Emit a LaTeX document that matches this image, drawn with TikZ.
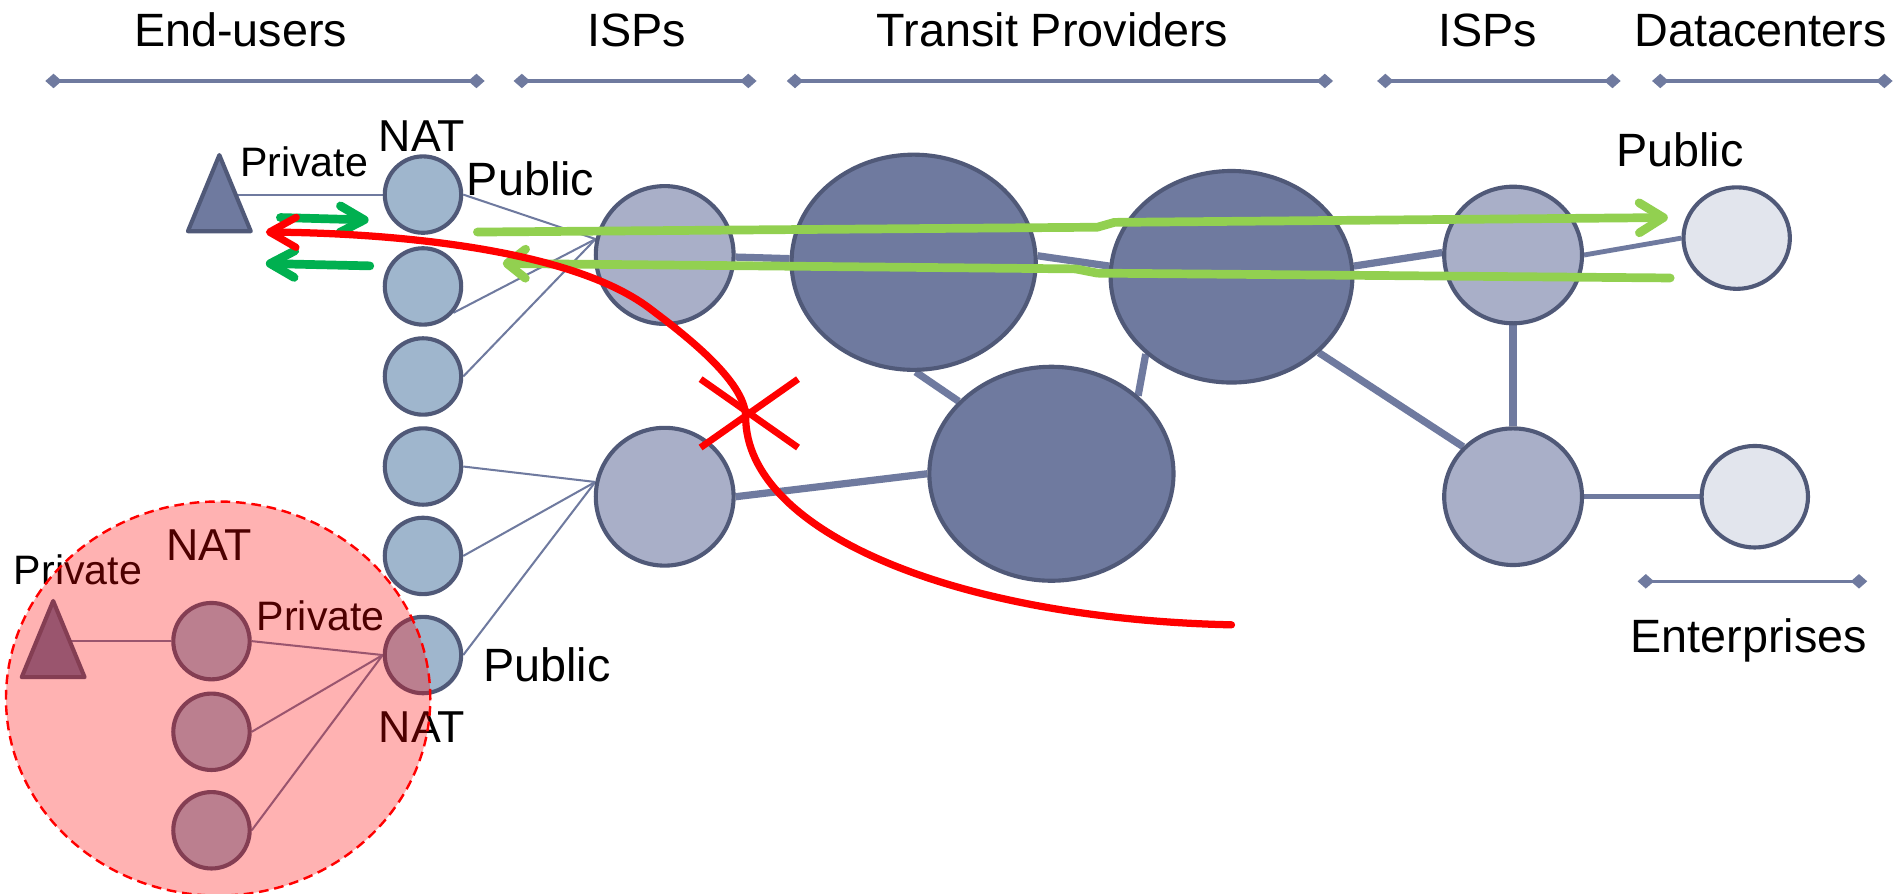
\documentclass[tikz,border=0pt]{standalone}
\usepackage{fontspec}
\setmainfont{Liberation Sans}
\usetikzlibrary{shapes.geometric,shapes.misc,arrows.meta}
\pgfdeclarelayer{bgfill}
\pgfdeclarelayer{background}
\pgfsetlayers{bgfill,background,main}
\definecolor{slate}{RGB}{111,122,159}
\definecolor{edgec}{RGB}{80,89,120}
\definecolor{ispfill}{RGB}{169,175,200}
\definecolor{natfill}{RGB}{159,182,205}
\definecolor{dcfill}{RGB}{226,229,237}
\definecolor{dgreen}{RGB}{0,176,80}
\definecolor{lgreen}{RGB}{146,208,80}
\begin{document}
\begin{tikzpicture}[x=0.025cm,y=-0.025cm,
  blob/.style={ellipse,draw=edgec,line width=0.085cm,inner sep=0pt},
  natc/.style={blob,fill=natfill,minimum width=1.58cm,minimum height=1.58cm},
  ispc/.style={blob,fill=ispfill,minimum width=2.85cm,minimum height=2.85cm},
  trc/.style={blob,fill=slate},
  dcc/.style={blob,fill=dcfill,minimum width=2.2cm,minimum height=2.1cm},
  host/.style={isosceles triangle,isosceles triangle stretches,shape border rotate=90,draw=edgec,fill=slate,line width=0.085cm,line join=round,minimum width=1.3cm,minimum height=1.575cm,inner sep=0pt,anchor=lower side},
  thinlink/.style={draw=slate,line width=0.042cm},
  thicklink/.style={draw=slate,line width=0.15cm},
  midlink/.style={draw=slate,line width=0.1cm},
  hdr/.style={font=\fontsize{27.5}{30}\selectfont,inner sep=0pt,anchor=base},
  natl/.style={font=\fontsize{26.3}{30}\selectfont,inner sep=0pt,anchor=base},
  privl/.style={font=\fontsize{24.2}{28}\selectfont,inner sep=0pt,anchor=base},
  spanline/.style={draw=slate,line width=0.065cm,{Diamond[length=0.34cm,width=0.3cm]}-{Diamond[length=0.34cm,width=0.3cm]}},
  lgarrow/.style={draw=lgreen,line width=0.18cm,line cap=round,line join=round,-{Straight Barb[round,length=0.5cm,width=0.62cm]}},
  lgarrowsmall/.style={draw=lgreen,line width=0.18cm,line cap=round,line join=round,-{Straight Barb[round,length=0.38cm,width=0.6cm]}},
  dgarrow/.style={draw=dgreen,line width=0.18cm,line cap=round,line join=round,-{Straight Barb[round,length=0.5cm,width=0.55cm]}},
  redarrow/.style={draw=red,line width=0.15cm,line cap=round,line join=round,-{Straight Barb[round,length=0.55cm,width=0.62cm]}}
]
\useasboundingbox (0,0) rectangle (1568,739);
\begin{pgfonlayer}{bgfill}
\fill[white] (0,0) rectangle (1568,739);
\end{pgfonlayer}

% ---- header spans
\coordinate (h1a) at (37.5,67); \coordinate (h1b) at (401,67);
\coordinate (h2a) at (425,67); \coordinate (h2b) at (626,67);
\coordinate (h3a) at (651,67); \coordinate (h3b) at (1103,67);
\coordinate (h4a) at (1139.5,67); \coordinate (h4b) at (1341,67);
\coordinate (h5a) at (1367,67); \coordinate (h5b) at (1566,67);
\coordinate (h6a) at (1355,481); \coordinate (h6b) at (1545,481);
\foreach \s in {1,...,6} {\draw[spanline] (h\s a) -- (h\s b);}

\node[hdr] (lend) at (199,38.6) {End-users};
\node[hdr] (lisp1) at (527,38.6) {ISPs};
\node[hdr] (ltr) at (871,38.6) {Transit Providers};
\node[hdr] (lisp2) at (1231,38.6) {ISPs};
\node[hdr] (ldc) at (1457,38.6) {Datacenters};
\node[hdr] (lentp) at (1447,540) {Enterprises};

% ---- nodes
\node[host] (u1) at (181.5,193) {};
\node[natc] (n1) at (350,161) {};
\node[natc] (n2) at (350,237) {};
\node[natc] (n3) at (350,311.5) {};
\node[natc] (n4) at (350,386) {};
\node[natc] (n5) at (350,460) {};
\node[natc] (n6) at (350,542) {};
\node[ispc] (i1) at (550,211) {};
\node[ispc] (i2) at (550,411) {};
\node[trc,minimum width=5.05cm,minimum height=4.45cm] (t1) at (756,217) {};
\node[trc,minimum width=5.0cm,minimum height=4.375cm] (t2) at (1019,229) {};
\node[trc,minimum width=5.05cm,minimum height=4.425cm] (t3) at (870,392) {};
\node[ispc,minimum height=2.825cm] (r1) at (1252,211) {};
\node[ispc,minimum height=2.825cm] (r2) at (1252,411) {};
\node[dcc] (dc) at (1437,197) {};
\node[dcc] (ent) at (1452,411) {};
\node[host] (u2) at (44,562) {};
\node[natc] (p1) at (175,530.5) {};
\node[natc] (p2) at (175,605.5) {};
\node[natc] (p3) at (175,687) {};

% ---- links (behind nodes)
\begin{pgfonlayer}{background}
\draw[thinlink] (n1.west) -- (n1.west -| u1.apex);
\draw[thinlink] (n1.east) -- (i1.167);
\draw[thinlink] (n2.-41) -- (i1.167);
\draw[thinlink] (n3.east) -- (i1.167);
\draw[thinlink] (n4.east) -- (i2.168);
\draw[thinlink] (n5.east) -- (i2.168);
\draw[thinlink] (n6.east) -- (i2.168);
\draw[thinlink] (p1.west) -- (p1.west -| u2.apex);
\draw[thinlink] (p1.east) -- (n6.west);
\draw[thinlink] (p2.east) -- (n6.west);
\draw[thinlink] (p3.east) -- (n6.west);
\draw[thicklink] (i1) -- (t1);
\draw[thicklink] (t1.3) -- (t2.175);
\draw[thicklink] (t2.5) -- (r1.178);
\draw[midlink] (r1.east) -- (dc.west);
\draw[thicklink] (r1) -- (r2);
\draw[thicklink] (t2.-41) -- (r2.135);
\draw[thicklink] (t1.-89) -- (t3.142);
\draw[thicklink] (t2.-138) -- (t3.42);
\draw[thicklink] (i2.east) -- (t3.west);
\draw[midlink] (r2.east) -- (ent.west);
\end{pgfonlayer}

% ---- labels
\node[privl] (lpriv1) at (251.6,146) {Private};
\node[natl] (lnat1) at (349,125.5) {NAT};
\node[hdr] (lpub1) at (439,161.5) {Public};
\node[hdr] (lpub2) at (1390,138) {Public};
\node[hdr] (lpub3) at (452.5,564) {Public};
\node[natl] (lnat2) at (173,463.5) {NAT};
\node[privl] (lpriv2) at (64.5,484) {Private};
\node[privl] (lpriv3) at (265.5,522) {Private};
\node[natl] (lnat3) at (349,614) {NAT};

% ---- green flows
\coordinate (ga1) at (395,192); \coordinate (ga2) at (908,188);
\coordinate (ga3) at (922,184); \coordinate (ga4) at (1380,180);
\draw[lgarrow] (ga1) -- (ga2) -- (ga3) -- (ga4);
\coordinate (gb1) at (1382,230); \coordinate (gb2) at (908,226);
\coordinate (gb3) at (890,222.5); \coordinate (gb4) at (416,218);
\draw[lgarrowsmall] (gb1) -- (gb2) -- (gb3) -- (gb4);
\coordinate (gc1) at (232,180); \coordinate (gc2) at (305,182);
\draw[dgarrow] (gc1) -- (gc2);
\coordinate (gd1) at (306,220); \coordinate (gd2) at (220,218);
\draw[dgarrow] (gd1) -- (gd2);

% ---- red blocked flow
\coordinate (rs) at (1019,517);
\coordinate (rx) at (617,345);
\coordinate (rk) at (536,254);
\coordinate (re) at (220,192);
\draw[redarrow] (rs) .. controls (790,512) and (617,440) .. (rx)
  .. controls (617,315) and (564,275) .. (rk)
  .. controls (471.5,206.6) and (330,193) .. (re);
\node[cross out,draw=red,line width=0.14cm,minimum width=1.875cm,minimum height=1.275cm,inner sep=0pt] (xmark) at (620,342) {};

% ---- NAT cloud overlay
\node[ellipse,draw=red,dash pattern=on 0.2cm off 0.12cm,line width=0.05cm,fill=red,fill opacity=0.3,minimum width=8.775cm,minimum height=8.15cm] (cloud) at (180.5,578) {};
\end{tikzpicture}
\end{document}
